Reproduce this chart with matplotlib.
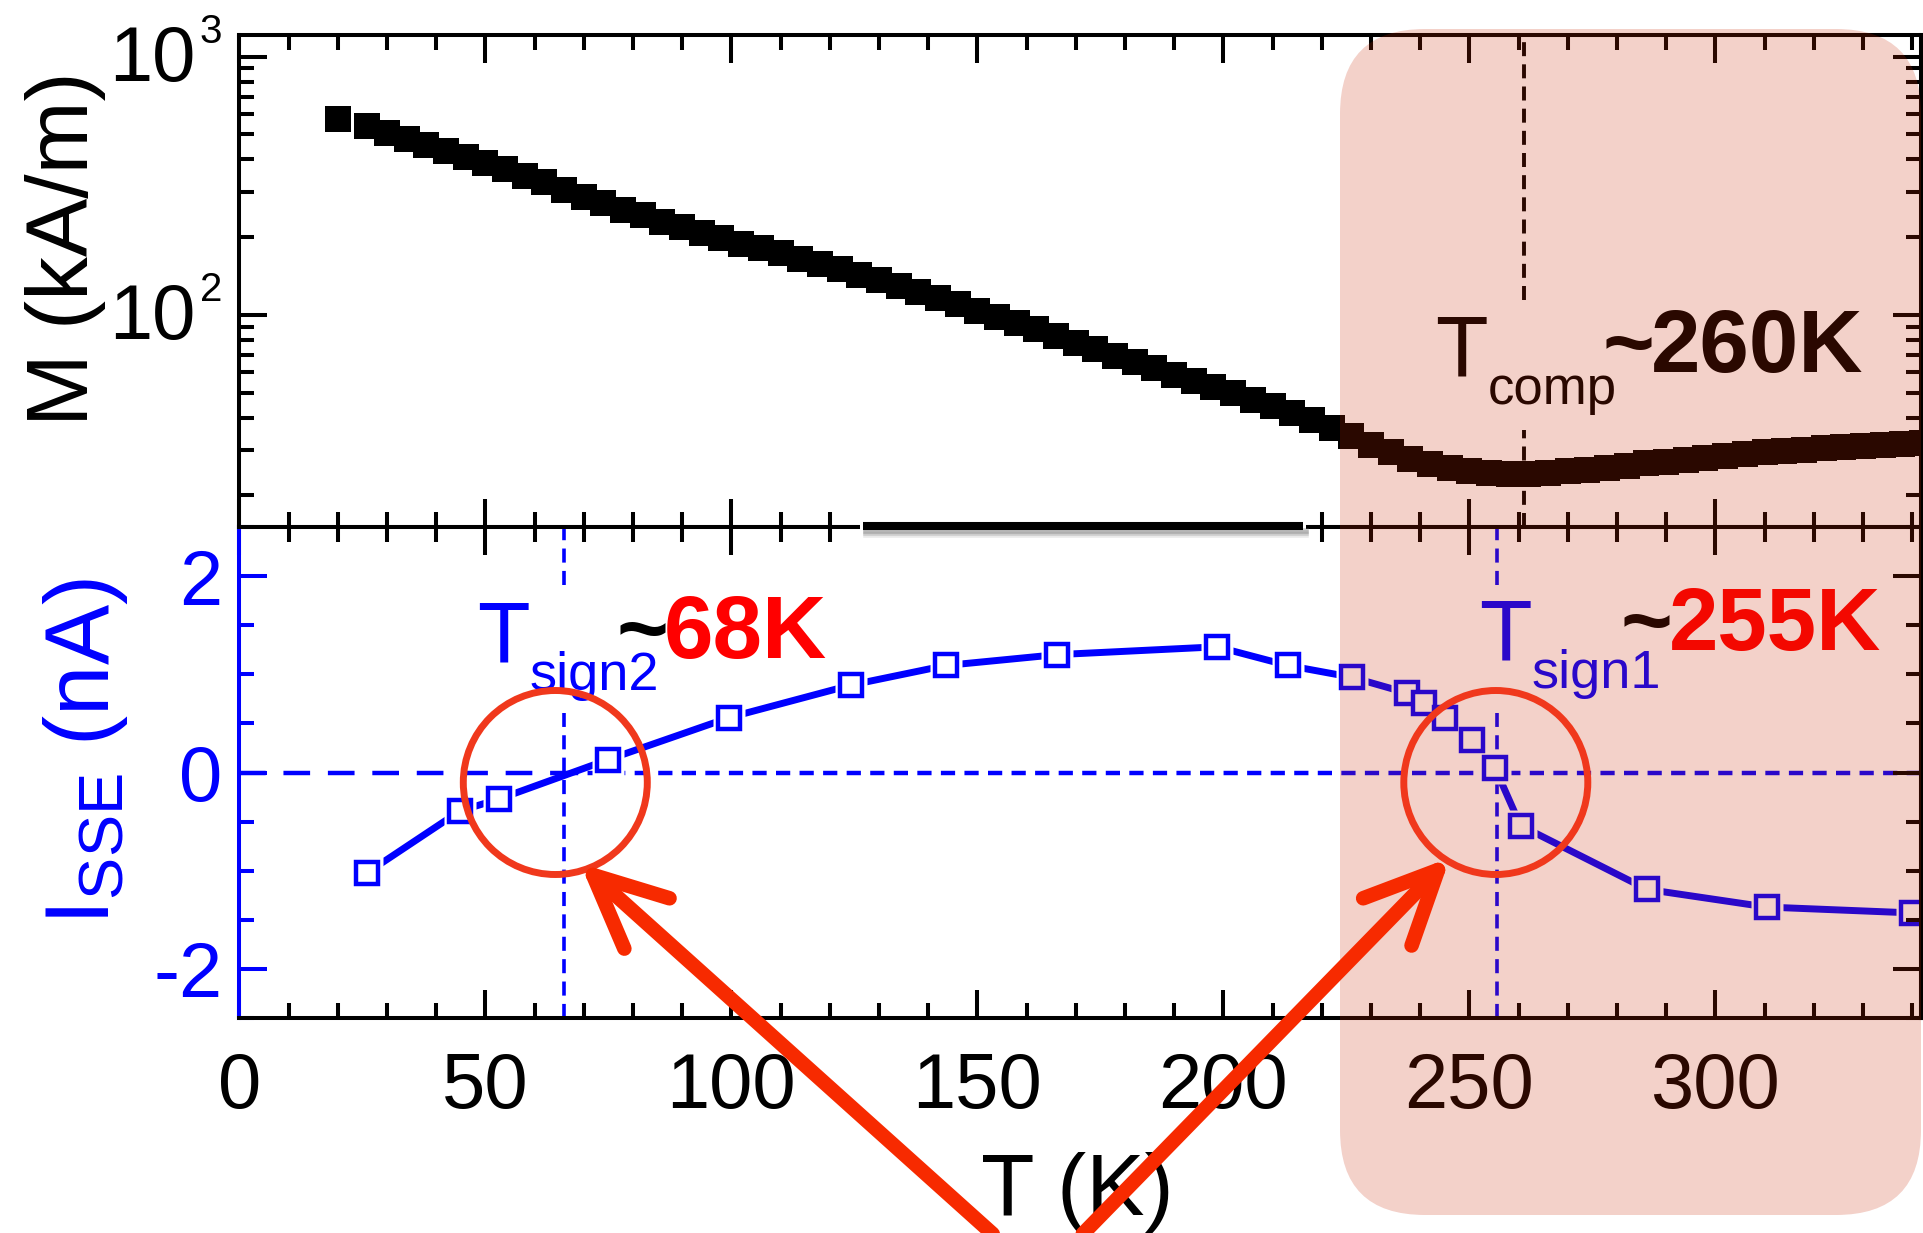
import numpy as np
import matplotlib
matplotlib.use("Agg")
import matplotlib.pyplot as plt
import matplotlib.transforms as mtransforms
from matplotlib.patches import FancyBboxPatch, Circle, Rectangle
from matplotlib.lines import Line2D
from matplotlib.ticker import MultipleLocator, LogLocator, NullFormatter

plt.rcParams['font.family'] = ['Liberation Sans', 'DejaVu Sans']
plt.rcParams['mathtext.fontset'] = 'custom'
plt.rcParams['mathtext.rm'] = 'Liberation Sans'
plt.rcParams['mathtext.it'] = 'Liberation Sans:italic'
plt.rcParams['mathtext.bf'] = 'Liberation Sans:bold'
plt.rcParams['axes.unicode_minus'] = False

W, H = 1924, 1233

# upper panel: magnetisation M (kA/m), log scale
temp_m = [20, 26, 30, 34, 38, 42, 46, 50, 54, 58, 62, 66, 70, 74, 78, 82, 86, 90,
          94, 98, 102, 106, 110, 114, 118, 122, 126, 130, 134, 138, 142, 146, 150,
          154, 158, 162, 166, 170, 174, 178, 182, 186, 190, 194, 198, 202, 206, 210,
          214, 218, 222, 226, 230, 234, 238, 242, 246, 250, 254, 258, 262, 266, 270,
          274, 278, 282, 286, 290, 294, 298, 302, 306, 310, 314, 318, 322, 326, 330,
          334, 338, 342]
mag = [573, 537, 506, 479, 454, 430, 407, 386, 366, 346,
       326, 305, 286, 271, 256, 243, 230, 219, 208, 198,
       189, 181, 173, 165, 157, 150, 143, 136, 130, 123,
       116, 110, 104, 98.4, 92.9, 87.9, 82.8, 78.0, 73.6, 69.5,
       65.6, 62.1, 58.7, 55.6, 52.6, 49.8, 47.0, 44.5, 41.9, 39.3,
       36.5, 33.9, 31.5, 29.4, 27.7, 26.4, 25.5, 24.8, 24.4, 24.2,
       24.2, 24.4, 24.8, 25.2, 25.6, 26.1, 26.6, 27.0, 27.5, 28.0,
       28.5, 29.0, 29.4, 29.8, 30.1, 30.5, 30.8, 31.0, 31.3, 31.6,
       31.8]

# lower panel: I_SSE (nA)
temp_i = [26.0, 44.9, 52.8, 74.9, 99.6, 124.3, 143.6, 166.1, 198.7, 213.1,
          226.1, 237.3, 240.8, 245.1, 250.6, 255.2, 260.4, 286.1, 310.4, 340.0]
isse = [-1.02, -0.39, -0.27, 0.13, 0.56, 0.89, 1.09, 1.20, 1.28, 1.09,
        0.97, 0.81, 0.71, 0.56, 0.33, 0.05, -0.54, -1.19, -1.37, -1.43]

t_comp = 261.1
t_sign2 = 65.9
t_sign1 = 255.6
xmax = 341.8

BLUE = '#0000ff'
RED = '#ff0000'
ARROW = '#f72a00'
CIRC = '#f0381c'
PIX = mtransforms.IdentityTransform()


def dpos(x, y):
    # image pixel (from top-left) -> display pixel
    return x, H - y


fig = plt.figure(figsize=(W / 100, H / 100), dpi=100)
x0, x1 = 239.3 / W, 1921 / W
ax1 = fig.add_axes([x0, 1 - 527 / H, x1 - x0, (527 - 35) / H])
ax2 = fig.add_axes([x0, 1 - 1018 / H, x1 - x0, (1018 - 527) / H])

lw_ax = 2.9
for ax in (ax1, ax2):
    ax.set_xlim(0, xmax)
    ax.xaxis.set_major_locator(MultipleLocator(50))
    ax.xaxis.set_minor_locator(MultipleLocator(10))
    for s in ax.spines.values():
        s.set_linewidth(lw_ax)
    ax.tick_params(which='both', direction='in', top=True, bottom=True, width=lw_ax)
    ax.tick_params(which='major', length=20)
    ax.tick_params(which='minor', length=11)

# ---- upper panel
ax1.plot(temp_m, mag, 's', color='black', ms=18.3, mew=0, zorder=3)
ax1.set_yscale('log')
ax1.set_ylim(15.1, 1213)
ax1.yaxis.set_major_locator(LogLocator(base=10))
ax1.yaxis.set_minor_locator(LogLocator(base=10, subs=np.arange(2, 10)))
ax1.yaxis.set_major_formatter(NullFormatter())
ax1.yaxis.set_minor_formatter(NullFormatter())
ax1.tick_params(axis='y', which='both', left=True, right=True)
ax1.tick_params(axis='x', labelbottom=False)

ytr = ax1.get_yaxis_transform()
base_tr = mtransforms.offset_copy(ytr, fig=fig, y=-24, units='dots')
sup_tr = mtransforms.offset_copy(ytr, fig=fig, y=13.5, units='dots')
for e in (2, 3):
    ax1.text(-0.0258, 10 ** e, '10', transform=base_tr, ha='right', va='baseline', fontsize=56)
    ax1.text(-0.0234, 10 ** e, str(e), transform=sup_tr, ha='left', va='baseline', fontsize=29)

ax1.axvline(t_comp, ymin=0.4614, ymax=1, color='black', lw=2.8, dashes=(3.6, 2.1), zorder=2)
ax1.axvline(t_comp, ymin=0, ymax=0.197, color='black', lw=2.8, dashes=(3.6, 2.1), zorder=2)

# ---- lower panel
ax2.plot(temp_i, isse, '-', color=BLUE, lw=5.0, solid_capstyle='round', zorder=3)
ax2.plot(temp_i, isse, 's', ls='none', ms=23, mfc='white', mec='none', zorder=4)
ax2.plot(temp_i, isse, 's', ls='none', ms=16, mfc='white', mec=BLUE, mew=3.2, zorder=5)
ax2.set_ylim(-2.5, 2.5)
ax2.yaxis.set_major_locator(MultipleLocator(2))
ax2.yaxis.set_minor_locator(MultipleLocator(0.5))
ax2.spines['left'].set_color(BLUE)
ax2.tick_params(axis='y', which='both', colors=BLUE, labelsize=56, pad=12)
ax2.tick_params(axis='x', labelsize=56, pad=24)

ax2.hlines(0, 0, t_sign2, color=BLUE, lw=3.2, linestyles=(0, (6.0, 4.0)), zorder=2)
ax2.hlines(0, t_sign2, xmax, color=BLUE, lw=3.2, linestyles=(0, (3.2, 2.1)), zorder=2)
for t in (t_sign2, t_sign1):
    ax2.axvline(t, ymin=0.882, ymax=1, color=BLUE, lw=2.6, dashes=(3.9, 2.3), zorder=2)
    ax2.axvline(t, ymin=0, ymax=0.621, color=BLUE, lw=2.6, dashes=(3.9, 2.3), zorder=2)

ax2r = ax2.twinx()
ax2r.set_ylim(-2.5, 2.5)
ax2r.yaxis.set_major_locator(MultipleLocator(2))
ax2r.yaxis.set_minor_locator(MultipleLocator(0.5))
ax2r.tick_params(axis='y', which='both', direction='in', width=lw_ax, labelright=False, colors='black')
ax2r.tick_params(which='major', length=20)
ax2r.tick_params(which='minor', length=11)
for s in ('left', 'top', 'bottom'):
    ax2r.spines[s].set_visible(False)
ax2r.spines['right'].set_linewidth(lw_ax)

# ---- axis labels
fig.text(66 / W, 1 - 249 / H, 'M (kA/m)', rotation=90, ha='center', va='center', fontsize=63)
fig.text(86 / W, 1 - 752 / H, r'$\mathregular{I_{SSE}}$ (nA)', rotation=90, ha='center',
         va='center', fontsize=65, color=BLUE)
fig.text(1077 / W, 1 - 1215 / H, 'T (K)', ha='center', va='baseline', fontsize=63)


# ---- annotations
def label(x, y, s, size, color='black', weight='normal'):
    fig.text(x / W, 1 - y / H, s, fontsize=size, color=color, fontweight=weight,
             ha='left', va='baseline')


label(477, 661.7, 'T', 62, BLUE)
label(530, 690, 'sign2', 39, BLUE)
label(617, 658, '~', 64, 'black', 'bold')
label(664, 658, '68K', 64, RED, 'bold')

label(1479, 660, 'T', 62, BLUE)
label(1532, 688, 'sign1', 39, BLUE)
label(1621, 650, '~', 64, 'black', 'bold')
label(1669, 650, '255K', 64, RED, 'bold')

label(1435, 375.6, 'T', 62)
label(1488, 404, 'comp', 38)
label(1603, 371.7, '~', 64, 'black', 'bold')
label(1651, 371.7, '260K', 64, 'black', 'bold')

# stray thick bar over the shared axis line
fig.add_artist(Rectangle(dpos(860, 557), 446, 60, transform=PIX, fc='white', ec='none', zorder=5))
for off, a in ((9, 0.15), (7, 0.25), (5, 0.35)):
    fig.add_artist(Line2D([866, 1306], [H - 526 - off] * 2, lw=4, color='0.45', alpha=a,
                          transform=PIX, zorder=5))
fig.add_artist(Line2D([863, 1303], [H - 526] * 2, lw=5.8, color='black',
                      solid_capstyle='butt', transform=PIX, zorder=6))

# pink highlight box
fig.add_artist(FancyBboxPatch(dpos(1340, 1215), 1921 - 1340, 1215 - 29,
                              boxstyle='round,pad=0,rounding_size=85', transform=PIX,
                              fc=(200 / 255, 38 / 255, 0), ec='none', alpha=0.21, zorder=10))

# red circles and arrows
for cx in (555.3, 1495.8):
    fig.add_artist(Circle(dpos(cx, 782.5), 92, transform=PIX, fill=False, ec=CIRC,
                          lw=5.0, zorder=11))


def arrow(tip, tail, head=80, ang=25):
    tip = np.array(dpos(*tip), dtype=float)
    tail = np.array(dpos(*tail), dtype=float)
    d = (tail - tip) / np.hypot(*(tail - tip))
    arms = []
    for a in (ang, -ang):
        r = np.radians(a)
        rot = np.array([[np.cos(r), -np.sin(r)], [np.sin(r), np.cos(r)]])
        arms.append(tip + head * rot @ d)
    kw = dict(color=ARROW, lw=10.5, solid_capstyle='round', solid_joinstyle='round',
              transform=PIX, zorder=11)
    fig.add_artist(Line2D([tip[0], tail[0]], [tip[1], tail[1]], **kw))
    fig.add_artist(Line2D([arms[0][0], tip[0], arms[1][0]],
                          [arms[0][1], tip[1], arms[1][1]], **kw))


arrow((593, 875), (1005, 1245))
arrow((1438, 870), (1072, 1245))

fig.savefig('out.png', dpi=100)
